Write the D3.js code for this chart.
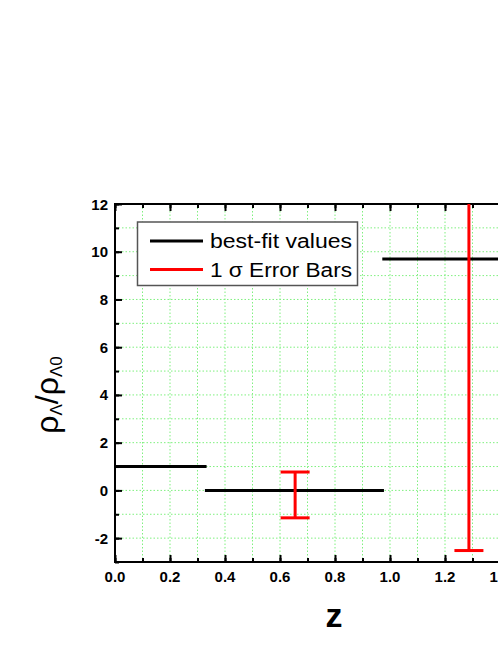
<!DOCTYPE html>
<html>
<head>
<meta charset="utf-8">
<script src="https://cdn.jsdelivr.net/npm/d3@7"></script>
<style>
  body { margin: 0; background: #fff; }
  svg { display: block; font-family: "Liberation Sans", Arial, sans-serif; }
</style>
</head>
<body>
<script>
// best-fit values: piecewise constant over z bins
var binStart = [0.0, 0.327, 0.972];
var binEnd = [0.333, 0.978, 1.6];
var bestFit = [1.0, 0.0, 9.7];

// 1 sigma error bars
var errZ = [0.655, 1.287];
var errLow = [-1.15, -2.52];
var errHigh = [0.77, 20.0];

var xMajor = [0.0, 0.2, 0.4, 0.6, 0.8, 1.0, 1.2, 1.4];
var yMajor = [-2, 0, 2, 4, 6, 8, 10, 12];

var legendLabels = ["best-fit values", "1 \u03c3 Error Bars"];
var legendColors = ["#000000", "#ff0000"];

var W = 498, H = 645;
var pLeft = 115, pTop = 204, pRight = 500, pBottom = 562;

var x = d3.scaleLinear().domain([0, 1.4]).range([pLeft, pRight]);
var y = d3.scaleLinear().domain([-3, 12]).range([pBottom, pTop]);

var svg = d3.select("body").append("svg")
    .attr("width", W)
    .attr("height", H);

svg.append("defs").append("clipPath").attr("id", "plotClip")
  .append("rect")
    .attr("x", pLeft).attr("y", pTop)
    .attr("width", pRight - pLeft).attr("height", pBottom - pTop);

var xGrid = d3.range(1, 14).map(function(i) { return i / 10; });
var yGrid = d3.range(-2, 12);

// grid
var grid = svg.append("g").attr("class", "grid");
grid.selectAll("line.vg").data(xGrid).enter().append("line")
    .attr("class", "vg")
    .attr("x1", function(d) { return x(d); })
    .attr("x2", function(d) { return x(d); })
    .attr("y1", pTop).attr("y2", pBottom)
    .attr("stroke", "#7ff07f")
    .attr("stroke-width", 1)
    .attr("stroke-dasharray", "1.5,2");
grid.selectAll("line.hg").data(yGrid).enter().append("line")
    .attr("class", "hg")
    .attr("y1", function(d) { return y(d); })
    .attr("y2", function(d) { return y(d); })
    .attr("x1", pLeft).attr("x2", pRight)
    .attr("stroke", "#7ff07f")
    .attr("stroke-width", 1)
    .attr("stroke-dasharray", "1.5,2");

// axes (ticks pointing inward)
var xMinor = d3.range(0, 15).map(function(i) { return i / 10; });
var yMinor = d3.range(-3, 13);

function styleAxis(g) {
  g.select(".domain").remove();
  g.selectAll(".tick line").attr("stroke", "#000").attr("stroke-width", 2);
}

svg.append("g")
    .attr("transform", "translate(0," + pBottom + ")")
    .call(d3.axisTop(x).tickValues(xMinor).tickSize(4).tickFormat(""))
    .call(styleAxis);
svg.append("g")
    .attr("transform", "translate(0," + pBottom + ")")
    .call(d3.axisTop(x).tickValues(xMajor).tickSize(7).tickFormat(""))
    .call(styleAxis);
svg.append("g")
    .attr("transform", "translate(0," + pTop + ")")
    .call(d3.axisBottom(x).tickValues(xMinor).tickSize(4).tickFormat(""))
    .call(styleAxis);
svg.append("g")
    .attr("transform", "translate(0," + pTop + ")")
    .call(d3.axisBottom(x).tickValues(xMajor).tickSize(7).tickFormat(""))
    .call(styleAxis);
svg.append("g")
    .attr("transform", "translate(" + pLeft + ",0)")
    .call(d3.axisRight(y).tickValues(yMinor).tickSize(4).tickFormat(""))
    .call(styleAxis);
svg.append("g")
    .attr("transform", "translate(" + pLeft + ",0)")
    .call(d3.axisRight(y).tickValues(yMajor).tickSize(7).tickFormat(""))
    .call(styleAxis);

// tick labels
svg.append("g").selectAll("text").data(xMajor).enter().append("text")
    .attr("x", function(d) { return x(d); })
    .attr("y", 582)
    .attr("text-anchor", "middle")
    .style("font-size", "15px")
    .attr("font-weight", "bold")
    .text(function(d) { return d.toFixed(1); });
svg.append("g").selectAll("text").data(yMajor).enter().append("text")
    .attr("x", 108)
    .attr("y", function(d) { return y(d) + 5.5; })
    .attr("text-anchor", "end")
    .style("font-size", "15px")
    .attr("font-weight", "bold")
    .text(function(d) { return d; });

// frame
svg.append("rect")
    .attr("x", pLeft).attr("y", pTop)
    .attr("width", pRight - pLeft).attr("height", pBottom - pTop)
    .attr("fill", "none")
    .attr("stroke", "#000")
    .attr("stroke-width", 2);

// data
var plot = svg.append("g").attr("clip-path", "url(#plotClip)");

plot.selectAll("line.fit").data(bestFit).enter().append("line")
    .attr("class", "fit")
    .attr("x1", function(d, i) { return x(binStart[i]); })
    .attr("x2", function(d, i) { return x(binEnd[i]); })
    .attr("y1", function(d) { return y(d); })
    .attr("y2", function(d) { return y(d); })
    .attr("stroke", "#000")
    .attr("stroke-width", 3);

var capW = 14.5;
var eb = plot.selectAll("g.err").data(errZ).enter().append("g").attr("class", "err");
eb.append("line")
    .attr("x1", function(d) { return x(d); })
    .attr("x2", function(d) { return x(d); })
    .attr("y1", function(d, i) { return y(errLow[i]); })
    .attr("y2", function(d, i) { return y(errHigh[i]); })
    .attr("stroke", "#ff0000").attr("stroke-width", 3);
eb.append("line")
    .attr("x1", function(d) { return x(d) - capW; })
    .attr("x2", function(d) { return x(d) + capW; })
    .attr("y1", function(d, i) { return y(errLow[i]); })
    .attr("y2", function(d, i) { return y(errLow[i]); })
    .attr("stroke", "#ff0000").attr("stroke-width", 3);
eb.append("line")
    .attr("x1", function(d) { return x(d) - capW; })
    .attr("x2", function(d) { return x(d) + capW; })
    .attr("y1", function(d, i) { return y(errHigh[i]); })
    .attr("y2", function(d, i) { return y(errHigh[i]); })
    .attr("stroke", "#ff0000").attr("stroke-width", 3);

// legend
var legend = svg.append("g");
legend.append("rect")
    .attr("x", 137.5).attr("y", 222)
    .attr("width", 220).attr("height", 63.5)
    .attr("fill", "#fff")
    .attr("stroke", "#555")
    .attr("stroke-width", 1.5);
var rows = legend.selectAll("g.row").data(legendLabels).enter().append("g")
    .attr("class", "row")
    .attr("transform", function(d, i) { return "translate(0," + (241 + i * 28.5) + ")"; });
rows.append("line")
    .attr("x1", 150).attr("x2", 203)
    .attr("y1", 0).attr("y2", 0)
    .attr("stroke", function(d, i) { return legendColors[i]; })
    .attr("stroke-width", 3);
rows.append("text")
    .attr("x", 210)
    .attr("y", 7)
    .style("font-size", "20px")
    .attr("textLength", 142)
    .attr("lengthAdjust", "spacingAndGlyphs")
    .text(function(d) { return d; });

// axis titles
var yt = svg.append("text")
    .attr("transform", "translate(58,395) rotate(-90)")
    .attr("text-anchor", "middle")
    .style("font-size", "32px");
yt.append("tspan").text("\u03c1");
yt.append("tspan").style("font-size", "17px").attr("dy", 4).text("\u039b");
yt.append("tspan").attr("dy", -4).text("/\u03c1");
yt.append("tspan").style("font-size", "17px").attr("dy", 4).text("\u039b0");

svg.append("text")
    .attr("x", 334)
    .attr("y", 627)
    .attr("text-anchor", "middle")
    .style("font-size", "34px")
    .attr("font-weight", "bold")
    .text("z");
</script>
</body>
</html>
